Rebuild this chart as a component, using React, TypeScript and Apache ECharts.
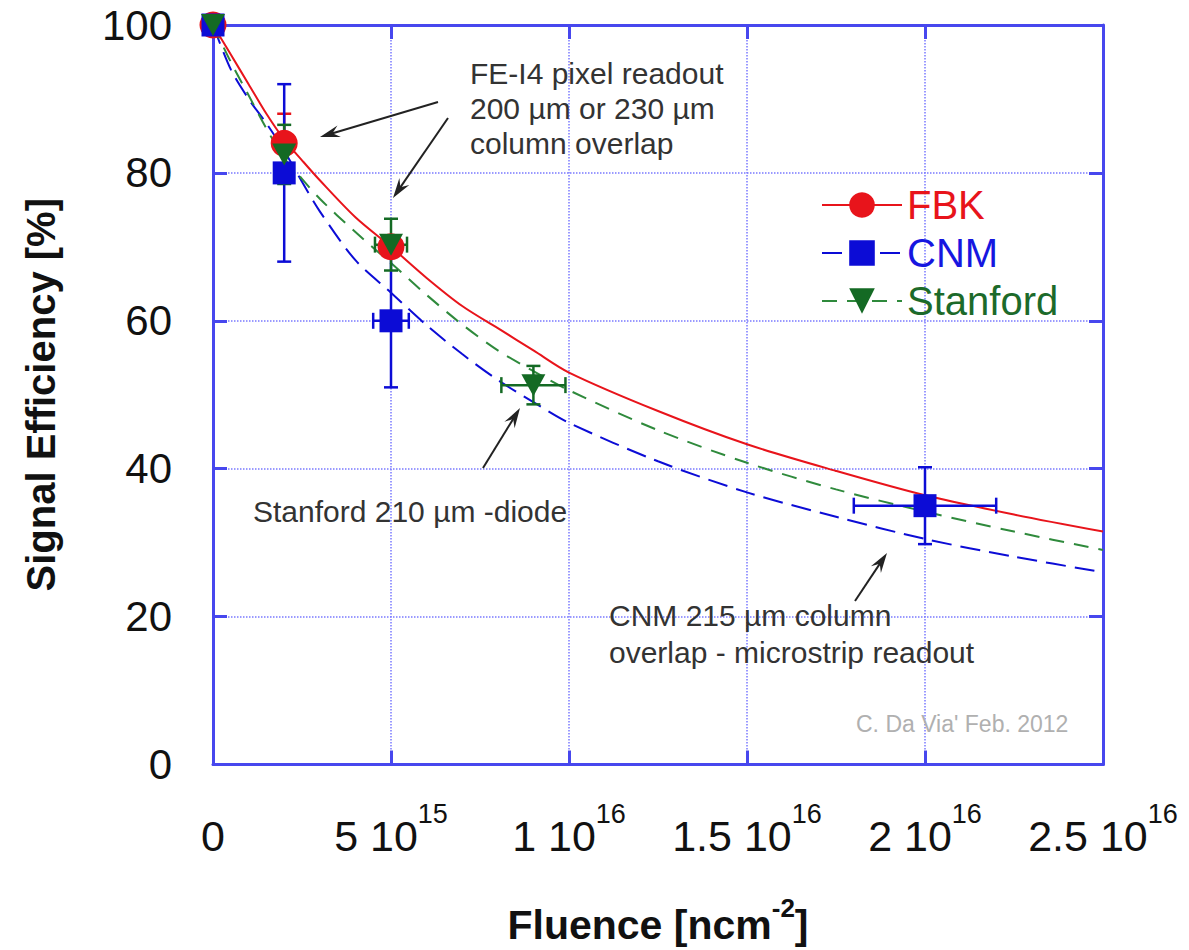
import { useEffect, useRef } from 'react';
import * as echarts from 'echarts';

// ---------- data ----------
const xTicks = [0, 5e15, 1e16, 1.5e16, 2e16, 2.5e16];
const xTickMantissa = ['0', '5 10', '1 10', '1.5 10', '2 10', '2.5 10'];
const xTickExponent = ['', '15', '16', '16', '16', '16'];

// measured points
const fbkX = [0, 2e15, 5e15];
const fbkY = [100, 84, 70];
const fbkYErr = [0, 4, 0];
const fbkXErr = [0, 0, 0];

const cnmX = [0, 2e15, 5e15, 2e16];
const cnmY = [100, 80, 60, 35];
const cnmYErr = [0, 12, 9, 5.2];
const cnmXErr = [0, 0, 0.5e15, 0.2e16];

const stanX = [0, 2e15, 5e15, 9e15];
const stanY = [100, 82.5, 70.3, 51.3];
const stanYErr = [0, 4, 3.5, 2.6];
const stanXErr = [0, 0, 0.45e15, 0.9e15];

// fitted curves
const fitX = [0, 0.5e15, 1e15, 1.5e15, 2e15, 2.5e15, 3e15, 4e15, 5e15, 6e15, 7e15, 8e15, 9e15, 1e16, 1.25e16, 1.5e16, 1.75e16, 2e16, 2.25e16, 2.5e16];
const fbkFit = [100, 96, 92, 88, 84.5, 81.7, 79, 74, 70, 65.8, 62, 59, 56, 53, 47.8, 43.3, 39.7, 36.4, 33.8, 31.5];
const stanFit = [100, 95, 90.5, 86, 82, 79.2, 76.5, 72, 67.8, 63.5, 59.5, 56, 53.2, 50.6, 45.2, 40.8, 37.2, 34.2, 31.5, 29];
const cnmFit = [100, 94, 90, 86.7, 83, 78.8, 74.8, 68.2, 63.8, 59.4, 55.5, 52, 49, 46.2, 41, 36.8, 33.5, 30.5, 28.1, 26];

const RED = '#e8141b';
const BLUE = '#0c0cd6';
const GREEN = '#146a24';
const AXIS_BLUE = '#4747ee';
const GRID_BLUE = '#7a7aff';
const FONT = '"Liberation Sans", Arial, Helvetica, sans-serif';
const TRI = 'path://M0,0L10,0L5,9Z';

const zip = (xs: number[], ys: number[]) => xs.map((x, i) => [x, ys[i]]);
const errRows = (xs: number[], ys: number[], xe: number[], ye: number[]) =>
  xs.map((x, i) => [x, ys[i], x - xe[i], x + xe[i], ys[i] - ye[i], ys[i] + ye[i]]);

function errorSeries(name: string, rows: number[][], color: string, z: number) {
  return {
    name,
    type: 'custom',
    z,
    silent: true,
    data: rows,
    renderItem: (_p: any, api: any) => {
      const x = api.value(0), y = api.value(1);
      const xl = api.value(2), xh = api.value(3), yl = api.value(4), yh = api.value(5);
      const style = { stroke: color, lineWidth: 2.5, fill: null };
      const children: any[] = [];
      if (yh - yl > 1e-9) {
        const a = api.coord([x, yl]);
        const b = api.coord([x, yh]);
        children.push({ type: 'line', shape: { x1: a[0], y1: a[1], x2: b[0], y2: b[1] }, style });
        children.push({ type: 'line', shape: { x1: a[0] - 7, y1: a[1], x2: a[0] + 7, y2: a[1] }, style });
        children.push({ type: 'line', shape: { x1: b[0] - 7, y1: b[1], x2: b[0] + 7, y2: b[1] }, style });
      }
      if (xh - xl > 1e-3) {
        const a = api.coord([xl, y]);
        const b = api.coord([xh, y]);
        children.push({ type: 'line', shape: { x1: a[0], y1: a[1], x2: b[0], y2: b[1] }, style });
        children.push({ type: 'line', shape: { x1: a[0], y1: a[1] - 8, x2: a[0], y2: a[1] + 8 }, style });
        children.push({ type: 'line', shape: { x1: b[0], y1: b[1] - 8, x2: b[0], y2: b[1] + 8 }, style });
      }
      return { type: 'group', children };
    },
  };
}

function arrow(x1: number, y1: number, x2: number, y2: number) {
  const dx = x2 - x1, dy = y2 - y1;
  const len = Math.hypot(dx, dy);
  const ux = dx / len, uy = dy / len;
  const nx = -uy, ny = ux;
  const hl = 20, hw = 6;
  const bx = x2 - ux * hl, by = y2 - uy * hl;
  return [
    { type: 'line', z: 50, shape: { x1, y1, x2: x2 - ux * 8, y2: y2 - uy * 8 }, style: { stroke: '#222', lineWidth: 2 } },
    {
      type: 'polygon', z: 50,
      shape: { points: [[x2, y2], [bx + nx * hw, by + ny * hw], [x2 - ux * 13, y2 - uy * 13], [bx - nx * hw, by - ny * hw]] },
      style: { fill: '#222' },
    },
  ];
}

function label(text: string, x: number, y: number, size = 30, fill = '#333') {
  return {
    type: 'text', z: 50, x, y,
    style: { text, fill, font: `${size}px ${FONT}`, align: 'left', verticalAlign: 'middle' },
  };
}

const axisLineStyle = () => ({ show: true, onZero: false, lineStyle: { color: AXIS_BLUE, width: 3 } });
const tickStyle = () => ({ show: true, inside: true, length: 14, lineStyle: { color: AXIS_BLUE, width: 3 } });

export default function App() {
  const ref = useRef<HTMLDivElement>(null);

  useEffect(() => {
    if (!ref.current) return;
    const chart = echarts.init(ref.current, null, { renderer: 'svg' });

    const option: any = {
      animation: false,
      backgroundColor: '#ffffff',
      textStyle: { fontFamily: FONT },
      grid: { left: 213, right: 86, top: 25, bottom: 185, containLabel: false },
      legend: {
        orient: 'vertical',
        left: 816,
        top: 180,
        itemWidth: 80,
        itemHeight: 32,
        itemGap: 8,
        selectedMode: false,
        textStyle: { fontSize: 40, fontFamily: FONT, padding: [0, 0, 0, 0] },
        data: [
          { name: 'FBK', textStyle: { color: RED } },
          { name: 'CNM', textStyle: { color: '#1616e0' } },
          { name: 'Stanford', textStyle: { color: '#1c6a2a' } },
        ],
      },
      xAxis: [
        {
          type: 'value',
          min: 0,
          max: 2.5e16,
          interval: 5e15,
          position: 'bottom',
          axisLine: axisLineStyle(),
          axisTick: tickStyle(),
          splitLine: { show: true, lineStyle: { color: GRID_BLUE, width: 1.5, type: 'dotted' } },
          axisLabel: {
            margin: 36,
            color: '#111',
            formatter: (v: number) => {
              const i = xTicks.findIndex((t) => Math.abs(t - v) < 1e12);
              if (i < 0) return '';
              return xTickExponent[i]
                ? `{m|${xTickMantissa[i]}}{e|${xTickExponent[i]}}`
                : `{m|${xTickMantissa[i]}}`;
            },
            rich: {
              m: { fontSize: 43, lineHeight: 70, color: '#111', fontFamily: FONT, verticalAlign: 'middle' },
              e: { fontSize: 27, lineHeight: 27, color: '#111', fontFamily: FONT, verticalAlign: 'top' },
            },
          },
          name: '{a|Fluence [ncm}{b|-2}{a|]}',
          nameLocation: 'middle',
          nameGap: 130,
          nameTextStyle: {
            rich: {
              a: { fontSize: 41, fontWeight: 'bold', lineHeight: 60, color: '#111', fontFamily: FONT, verticalAlign: 'middle' },
              b: { fontSize: 26, fontWeight: 'bold', lineHeight: 26, color: '#111', fontFamily: FONT, verticalAlign: 'top' },
            },
          },
        },
        {
          type: 'value',
          min: 0,
          max: 2.5e16,
          interval: 5e15,
          position: 'top',
          axisLine: axisLineStyle(),
          axisTick: tickStyle(),
          axisLabel: { show: false },
          splitLine: { show: false },
        },
      ],
      yAxis: [
        {
          type: 'value',
          min: 0,
          max: 100,
          interval: 20,
          position: 'left',
          axisLine: axisLineStyle(),
          axisTick: tickStyle(),
          splitLine: { show: true, lineStyle: { color: GRID_BLUE, width: 1.5, type: 'dotted' } },
          axisLabel: { margin: 41, fontSize: 42, color: '#111', fontFamily: FONT },
          name: 'Signal Efficiency [%]',
          nameLocation: 'middle',
          nameGap: 152,
          nameRotate: 90,
          nameTextStyle: { fontSize: 40, fontWeight: 'bold', color: '#111', fontFamily: FONT },
        },
        {
          type: 'value',
          min: 0,
          max: 100,
          interval: 20,
          position: 'right',
          axisLine: axisLineStyle(),
          axisTick: tickStyle(),
          axisLabel: { show: false },
          splitLine: { show: false },
        },
      ],
      series: [
        {
          name: 'CNM', type: 'line', z: 2, silent: true, smooth: 0.3, showSymbol: false,
          symbol: 'rect', itemStyle: { color: BLUE },
          lineStyle: { color: BLUE, width: 2, type: [20, 9] },
          data: zip(fitX, cnmFit),
        },
        {
          name: 'Stanford', type: 'line', z: 2, silent: true, smooth: 0.3, showSymbol: false,
          symbol: TRI, itemStyle: { color: GREEN },
          lineStyle: { color: '#2f8a3c', width: 2, type: [15, 10] },
          data: zip(fitX, stanFit),
        },
        {
          name: 'FBK', type: 'line', z: 2, silent: true, smooth: 0.3, showSymbol: false,
          symbol: 'circle', itemStyle: { color: RED },
          lineStyle: { color: RED, width: 2 },
          data: zip(fitX, fbkFit),
        },
        errorSeries('FBK err', errRows(fbkX, fbkY, fbkXErr, fbkYErr), RED, 3),
        errorSeries('CNM err', errRows(cnmX, cnmY, cnmXErr, cnmYErr), BLUE, 3),
        errorSeries('Stanford err', errRows(stanX, stanY, stanXErr, stanYErr), GREEN, 3),
        {
          name: 'FBK data', type: 'scatter', z: 4, silent: true,
          symbol: 'circle', symbolSize: 27, itemStyle: { color: RED, opacity: 1 },
          data: zip(fbkX, fbkY),
        },
        {
          name: 'CNM data', type: 'scatter', z: 5, silent: true,
          symbol: 'rect', symbolSize: 23, itemStyle: { color: BLUE, opacity: 1 },
          data: zip(cnmX, cnmY),
        },
        {
          name: 'Stanford data', type: 'scatter', z: 6, silent: true,
          symbol: TRI, symbolSize: [24, 22], itemStyle: { color: GREEN, opacity: 1 },
          data: zip(stanX, stanY),
        },
      ],
      graphic: [
        label('FE-I4 pixel readout', 470, 73),
        label('200 \u00b5m or 230 \u00b5m', 470, 108),
        label('column overlap', 470, 143),
        ...arrow(438, 102, 320, 137),
        ...arrow(448, 118, 393, 198),
        label('Stanford 210 \u00b5m -diode', 253, 511),
        ...arrow(483, 468, 520, 408),
        label('CNM 215 \u00b5m column', 609, 615),
        label('overlap - microstrip readout', 609, 652),
        ...arrow(855, 601, 887, 553),
        label("C. Da Via' Feb. 2012", 856, 724, 23, '#b0b0b0'),
      ],
    };

    chart.setOption(option);
    return () => chart.dispose();
  }, []);

  return (
    <div
      ref={ref}
      style={{ position: 'fixed', left: 0, top: 0, width: 1189, height: 950, background: '#fff' }}
    />
  );
}
